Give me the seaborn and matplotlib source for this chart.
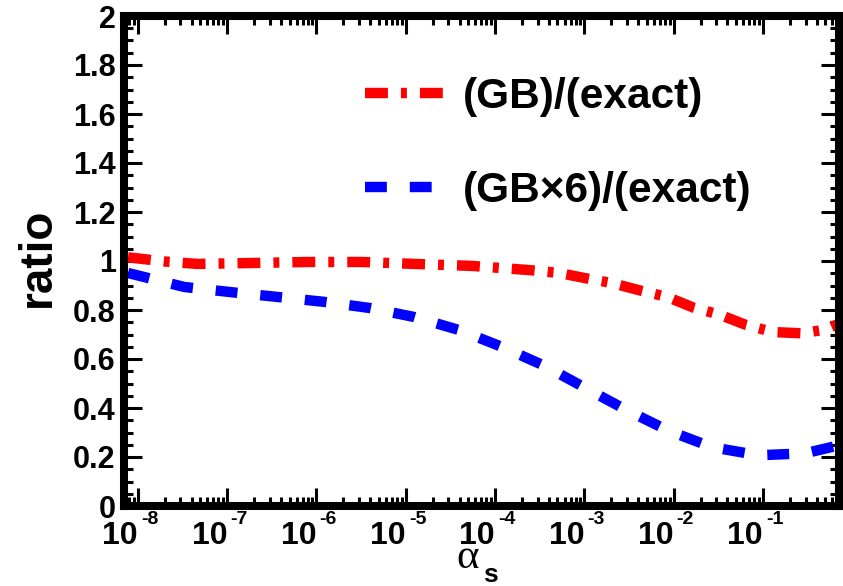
import numpy as np
import pandas as pd
import matplotlib
matplotlib.use("Agg")
import matplotlib.pyplot as plt
import matplotlib.transforms as mtransforms
import seaborn as sns
from matplotlib.ticker import FixedLocator, LogLocator, MultipleLocator, FuncFormatter, NullFormatter

# ---- data ----
gb_log10_alpha = [-8.11, -7.70, -7.33, -6.70, -6.09, -5.49, -4.90, -4.26, -3.62, -3.28,
                  -2.99, -2.69, -2.38, -2.07, -1.78, -1.48, -1.19, -0.89, -0.57, -0.30, -0.146]
gb_ratio = [1.015, 0.998, 0.988, 0.992, 0.996, 0.996, 0.988, 0.980, 0.963, 0.951,
            0.930, 0.910, 0.880, 0.853, 0.810, 0.780, 0.739, 0.710, 0.705, 0.720, 0.745]

gb6_log10_alpha = [-8.11, -7.48, -6.96, -6.43, -5.91, -5.40, -4.90, -4.40, -3.92, -3.44,
                   -2.98, -2.52, -2.05, -1.57, -1.05, -0.53, -0.146]
gb6_ratio = [0.951, 0.894, 0.873, 0.853, 0.833, 0.808, 0.771, 0.718, 0.649, 0.571,
             0.480, 0.390, 0.306, 0.240, 0.207, 0.215, 0.248]

series_names = ["(GB)/(exact)", "(GB\u00d76)/(exact)"]
series_colors = ["#ff0000", "#0000ff"]
y_ticks = [0, 0.2, 0.4, 0.6, 0.8, 1.0, 1.2, 1.4, 1.6, 1.8, 2.0]
x_decades = [-8, -7, -6, -5, -4, -3, -2, -1]

df = pd.concat([
    pd.DataFrame({"alpha": 10.0 ** np.array(gb_log10_alpha), "ratio": gb_ratio, "series": series_names[0]}),
    pd.DataFrame({"alpha": 10.0 ** np.array(gb6_log10_alpha), "ratio": gb6_ratio, "series": series_names[1]}),
])

sns.set_theme(style="ticks")
plt.rcParams["font.family"] = ["Liberation Sans", "DejaVu Sans"]
plt.rcParams["font.weight"] = "bold"
plt.rcParams["text.color"] = "black"
plt.rcParams["axes.labelcolor"] = "black"
plt.rcParams["xtick.color"] = "black"
plt.rcParams["ytick.color"] = "black"
plt.rcParams["lines.solid_capstyle"] = "butt"
plt.rcParams["lines.dash_capstyle"] = "butt"

fig = plt.figure(figsize=(8.43, 5.86), dpi=100)
ax = fig.add_axes([124 / 843, 1 - 506 / 586, (839 - 124) / 843, (506 - 16) / 586])

lw = 7.5
sns.lineplot(data=df, x="alpha", y="ratio", hue="series", style="series",
             palette=dict(zip(series_names, series_colors)),
             dashes={series_names[0]: (2.2, 1.25, 0.57, 1.25), series_names[1]: (2.1, 2.2)},
             linewidth=lw, legend=False, ax=ax, sort=False, estimator=None)

ax.set_xscale("log")
ax.set_xlim(7.0e-9, 0.71)
ax.set_ylim(0, 2)

x_major = [10.0 ** d for d in x_decades]
ax.xaxis.set_major_locator(FixedLocator(x_major))
ax.xaxis.set_minor_locator(LogLocator(base=10, subs=np.arange(2, 10), numticks=50))
ax.xaxis.set_major_formatter(FuncFormatter(lambda v, p: "10"))
ax.xaxis.set_minor_formatter(NullFormatter())
ax.yaxis.set_major_locator(FixedLocator(y_ticks))
ax.yaxis.set_minor_locator(MultipleLocator(0.05))
ax.yaxis.set_major_formatter(FuncFormatter(lambda v, p: "%g" % v))

for s in ax.spines.values():
    s.set_linewidth(5.8)
    s.set_color("black")
    s.set_visible(True)

ax.tick_params(which="both", direction="in", top=True, right=True, colors="black")
ax.tick_params(which="major", length=13, width=2.2)
ax.tick_params(which="minor", length=6.5, width=2.2)
ax.tick_params(axis="y", which="major", labelsize=22, pad=6)
ax.tick_params(axis="x", which="major", labelsize=23, pad=11)
for lab in ax.get_yticklabels():
    lab.set_fontweight("bold")
for lab in ax.get_xticklabels():
    lab.set_fontweight("bold")
    lab.set_horizontalalignment("right")

# exponents of the decade labels
expo_tf = mtransforms.blended_transform_factory(ax.transData, ax.transAxes) + \
    mtransforms.ScaledTranslation(3 / 100, -5 / 100, fig.dpi_scale_trans)
for d, xv in zip(x_decades, x_major):
    ax.text(xv, 0, "-%d" % abs(d), transform=expo_tf, fontsize=14, fontweight="bold",
            ha="left", va="top", clip_on=False, zorder=1)

# x label: alpha (serif) with bold sans subscript s
ax.set_xlabel("\u03b1", fontsize=31, fontfamily="Liberation Serif", fontweight="normal")
ax.xaxis.set_label_coords((468 - 124) / 715, (506 - 568) / 490)
ax.xaxis.label.set_verticalalignment("baseline")
ax.text((483 - 124) / 715, (506 - 582) / 490, "s", transform=ax.transAxes,
        fontsize=19, fontweight="bold", ha="left", va="baseline")

ax.set_ylabel("ratio", fontsize=33, fontweight="bold")
ax.yaxis.set_label_coords(-(124 - 50) / 715, (506 - 257) / 490)
ax.yaxis.label.set_verticalalignment("baseline")

handles = ax.lines[:2]
leg = ax.legend(handles, series_names, loc="upper left", frameon=False,
                bbox_to_anchor=(365 / 843, 1 - 77 / 586), bbox_transform=fig.transFigure,
                fontsize=30.5, handlelength=1.9, handletextpad=0.4, labelspacing=1.28,
                borderpad=0, borderaxespad=0)
for t in leg.get_texts():
    t.set_fontweight("bold")

fig.savefig("out.png", dpi=100)
